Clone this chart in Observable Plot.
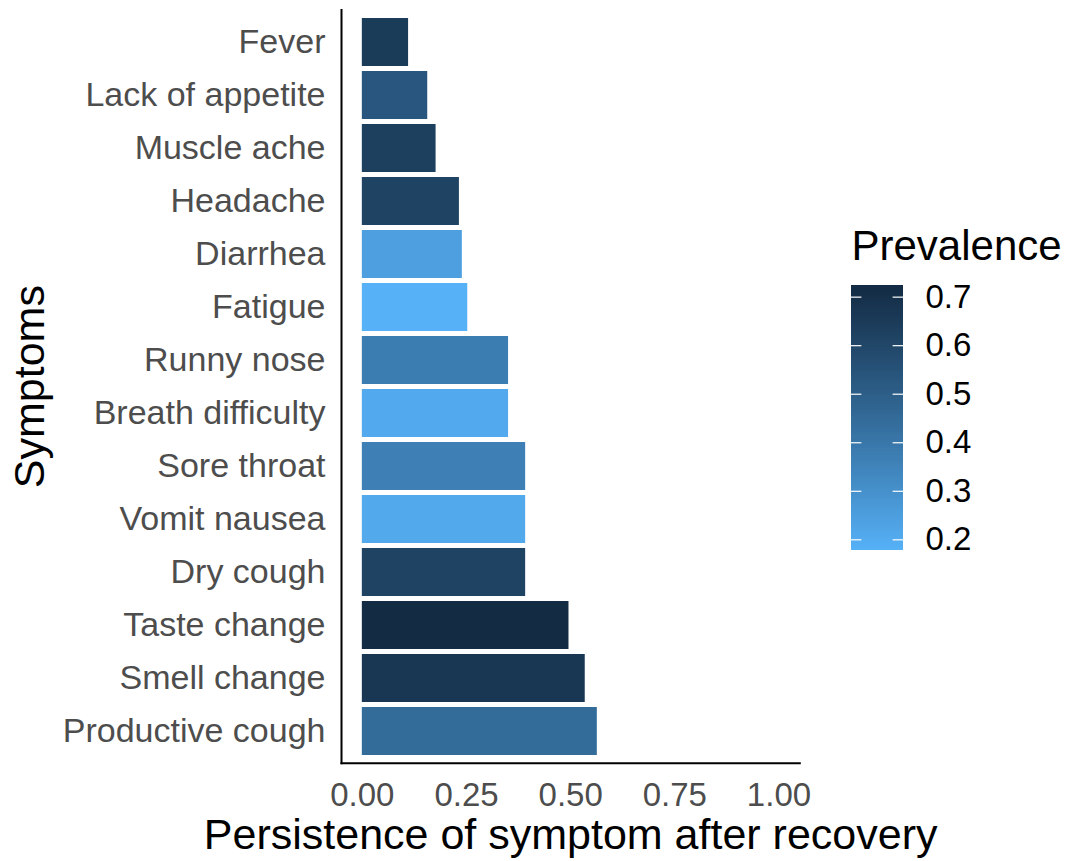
<!DOCTYPE html>
<html>
<head>
<meta charset="utf-8">
<script src="https://cdn.jsdelivr.net/npm/d3@7"></script>
<script src="https://cdn.jsdelivr.net/npm/@observablehq/plot@0.6"></script>
<style>
  html, body { margin: 0; padding: 0; background: white; }
  #wrap { position: relative; width: 1072px; height: 861px; font-family: "Liberation Sans", Arial, sans-serif; }
  #main { position: absolute; left: 0; top: 0; }
  #legend { position: absolute; left: 830px; top: 0; }
</style>
</head>
<body>
<div id="wrap"><div id="main"></div><div id="legend"></div></div>
<script>
const symptoms = ["Fever","Lack of appetite","Muscle ache","Headache","Diarrhea","Fatigue","Runny nose","Breath difficulty","Sore throat","Vomit nausea","Dry cough","Taste change","Smell change","Productive cough"];
const persistence = [0.111,0.157,0.177,0.233,0.240,0.253,0.351,0.351,0.392,0.392,0.392,0.496,0.535,0.564];
const prevalence = [0.648,0.532,0.630,0.615,0.246,0.178,0.376,0.207,0.365,0.209,0.615,0.720,0.672,0.448];
const legendTicks = [0.2,0.3,0.4,0.5,0.6,0.7];
const xTicks = [0,0.25,0.5,0.75,1];

const data = symptoms.map((s,i) => ({symptom: s, persistence: persistence[i], prevalence: prevalence[i]}));
const colorScale = {type: "linear", domain: [0.178, 0.724], range: ["#56B1F7", "#132B43"], interpolate: "lab"};
const font = "Liberation Sans, Arial, sans-serif";

const main = Plot.plot({
  width: 1072, height: 861,
  marginLeft: 341, marginRight: 272.7, marginTop: 9.5, marginBottom: 98.2,
  style: {fontFamily: font, background: "transparent"},
  x: {domain: [-0.05, 1.05]},
  y: {domain: symptoms, paddingInner: 0.1, paddingOuter: 0.15},
  color: colorScale,
  marks: [
    Plot.barX(data, {x: "persistence", y: "symptom", fill: "prevalence"}),
    Plot.axisY({tickSize: 0, tickPadding: 16, fontSize: 34, color: "#4D4D4D", label: null}),
    Plot.axisX({ticks: xTicks, tickFormat: d3.format(".2f"), tickSize: 0, tickPadding: 19, fontSize: 33, color: "#4D4D4D", label: null}),
    Plot.frame({anchor: "left", stroke: "black", strokeWidth: 2}),
    Plot.frame({anchor: "bottom", stroke: "black", strokeWidth: 2}),
    Plot.text(["Persistence of symptom after recovery"], {frameAnchor: "bottom", dy: 72, fontSize: 43, fill: "black", lineAnchor: "middle", textAnchor: "middle"}),
    Plot.text(["Symptoms"], {frameAnchor: "left", dx: -311, rotate: -90, fontSize: 43, fill: "black", lineAnchor: "middle", textAnchor: "middle"})
  ]
});
document.getElementById("main").appendChild(main);

const lo = 0.178, hi = 0.724, n = 120, step = (hi - lo) / n;
const steps = d3.range(n).map(i => lo + i * step);
const legend = Plot.plot({
  width: 242, height: 861,
  marginLeft: 21, marginRight: 169, marginTop: 285, marginBottom: 311,
  style: {fontFamily: font, background: "transparent"},
  x: {domain: [0, 1], axis: null},
  y: {domain: [lo, hi]},
  color: colorScale,
  marks: [
    Plot.rect(steps, {x1: 0, x2: 1, y1: d => d, y2: d => Math.min(hi, d + step * 2), fill: d => d + step / 2, shapeRendering: "crispEdges"}),
    Plot.ruleY(legendTicks, {x1: 0, x2: 0.2, stroke: "white", strokeWidth: 1.2}),
    Plot.ruleY(legendTicks, {x1: 0.8, x2: 1, stroke: "white", strokeWidth: 1.2}),
    Plot.axisY({anchor: "right", ticks: legendTicks, tickFormat: d3.format(".1f"), tickSize: 0, tickPadding: 22, fontSize: 33, color: "black", label: null}),
    Plot.text(["Prevalence"], {frameAnchor: "top-left", dy: -39, textAnchor: "start", fontSize: 42, fill: "black", lineAnchor: "middle"})
  ]
});
document.getElementById("legend").appendChild(legend);
</script>
</body>
</html>
